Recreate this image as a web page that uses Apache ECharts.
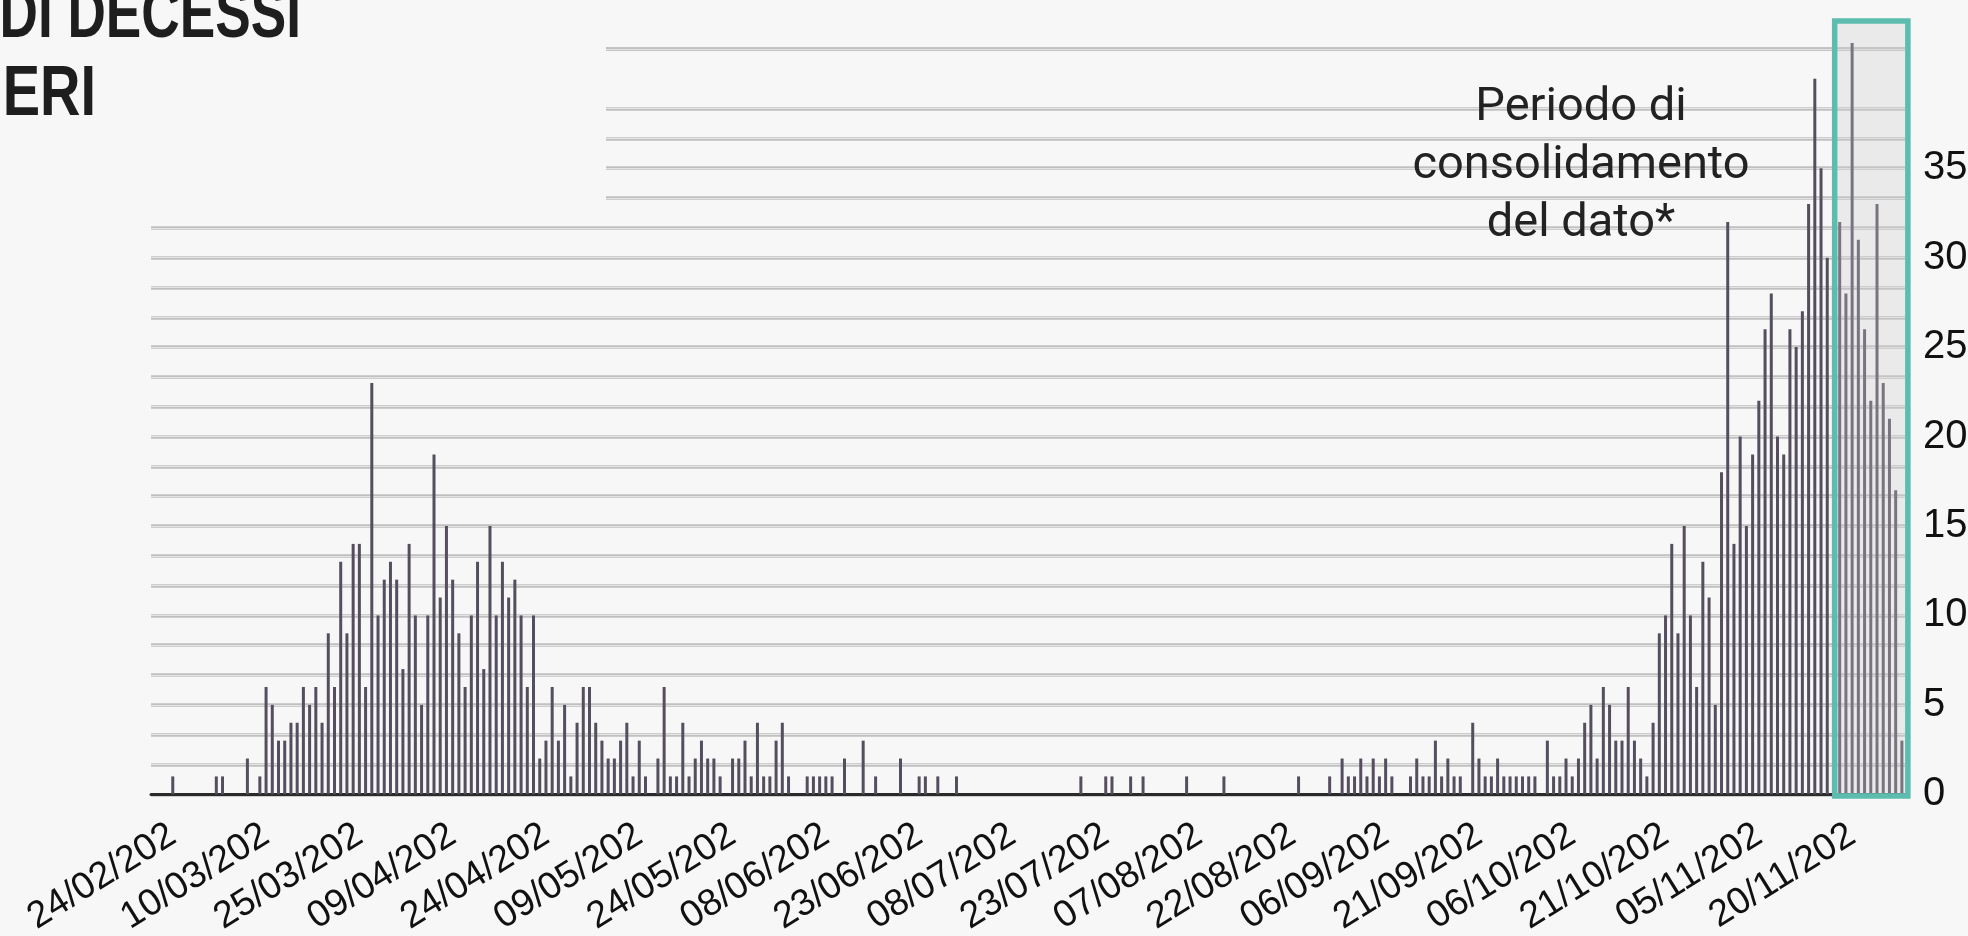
<!DOCTYPE html>
<html>
<head>
<meta charset="utf-8">
<script src="https://cdn.jsdelivr.net/npm/echarts@6/dist/echarts.min.js"></script>
<style>
html,body{margin:0;padding:0;background:#f7f7f7;}
#chart{width:1968px;height:936px;}
</style>
</head>
<body>
<div id="chart"></div>
<script>
// Daily deaths, 21/02/2020 .. 28/11/2020, one array per month
const febValues = [0,0,0,1,0,0,0,0,0];
const marValues = [0,1,1,0,0,0,2,0,1,6,5,3,3,4,4,6,5,6,4,9,6,13,9,14,14,6,23,10,12,13,12];
const aprValues = [7,14,10,5,10,19,11,15,12,9,6,10,13,7,15,10,13,11,12,10,6,10,2,3,6,3,5,1,4,6];
const mayValues = [6,4,3,2,2,3,4,1,3,1,0,2,6,1,1,4,1,2,3,2,2,1,0,2,2,3,1,4,1,1,3];
const junValues = [4,1,0,0,1,1,1,1,1,0,2,0,0,3,0,1,0,0,0,2,0,0,1,1,0,1,0,0,1,0];
const julValues = [0,0,0,0,0,0,0,0,0,0,0,0,0,0,0,0,0,0,1,0,0,0,1,1,0,0,1,0,1,0,0];
const augValues = [0,0,0,0,1,0,0,0,0,0,1,0,0,0,0,0,0,0,0,0,0,0,1,0,0,0,0,1,0,2,1];
const sepValues = [1,2,1,2,1,2,1,0,0,1,2,1,1,3,1,2,1,1,0,4,2,1,1,2,1,1,1,1,1,1];
const octValues = [0,3,1,1,2,1,2,4,5,2,6,5,3,3,6,3,2,1,4,9,10,14,9,15,10,6,13,11,5,18,32];
const novValues = [14,20,15,19,22,26,28,20,19,26,25,27,33,40,35,30,30,32,28,42,31,26,22,33,23,21,17,3];

const firstDate = [2020, 2, 21];          // year, month, day of the first category
const consolidationStart = '18/11/2020'; // start of "Periodo di consolidamento"
const yTickLabels = [0, 5, 10, 15, 20, 25, 30, 35];

const values = [].concat(febValues, marValues, aprValues, mayValues, junValues,
                         julValues, augValues, sepValues, octValues, novValues);
const categories = [];
(function () {
  const t0 = Date.UTC(firstDate[0], firstDate[1] - 1, firstDate[2]);
  for (let i = 0; i < values.length; i++) {
    const d = new Date(t0 + i * 86400000);
    const dd = String(d.getUTCDate()).padStart(2, '0');
    const mm = String(d.getUTCMonth() + 1).padStart(2, '0');
    categories.push(dd + '/' + mm + '/' + d.getUTCFullYear());
  }
})();
const firstLabelIndex = categories.indexOf('24/02/2020');

const yStep = 5 / 3;
const yMax = 25 * yStep;
const outerColors = [], innerColors = [];
for (let k = 0; k <= 25; k++) {
  const hidden = (k === 24);
  outerColors.push(hidden ? 'rgba(0,0,0,0)' : '#c0c0c0');
  innerColors.push(hidden ? 'rgba(0,0,0,0)' : '#e4e4e4');
}

const chart = echarts.init(document.getElementById('chart'), null, {renderer: 'canvas'});
const option = {
  backgroundColor: '#f7f7f7',
  animation: false,
  grid: {left: 151, right: 63, top: 49, bottom: 141.7, containLabel: false, outerBoundsMode: 'none'},
  xAxis: {
    type: 'category',
    data: categories,
    boundaryGap: true,
    axisTick: {show: false},
    axisLine: {show: true, lineStyle: {color: '#2a2a2a', width: 3}},
    axisLabel: {
      interval: function (idx) { return idx >= firstLabelIndex && (idx - firstLabelIndex) % 15 === 0; },
      rotate: 32,
      margin: 38,
      fontSize: 37.5,
      fontFamily: 'Liberation Sans, Arial, sans-serif',
      color: '#111',
      formatter: function (v) { return v.slice(0, 9); }
    },
    splitLine: {show: false}
  },
  yAxis: [{
    type: 'value',
    position: 'right',
    min: 0, max: yMax, interval: yStep,
    axisLine: {show: false}, axisTick: {show: false},
    axisLabel: {
      margin: 18, fontSize: 40, color: '#111',
      fontFamily: 'Liberation Sans, Arial, sans-serif',
      formatter: function (v) {
        const k = Math.round(v / yStep);
        const val = Math.round(v);
        return (k % 3 === 0 && yTickLabels.indexOf(val) >= 0) ? String(val) : '';
      }
    },
    splitLine: {show: true, lineStyle: {color: outerColors, width: 3.5}}
  }, {
    type: 'value',
    position: 'right',
    min: 0, max: yMax, interval: yStep,
    axisLine: {show: false}, axisTick: {show: false},
    axisLabel: {show: false},
    splitLine: {show: true, lineStyle: {color: innerColors, width: 1.2}}
  }],
  series: [{
    type: 'bar',
    data: values,
    yAxisIndex: 0,
    barWidth: 3,
    clip: false,
    itemStyle: {color: '#554e5e'},
    z: 3
  }]
};
chart.setOption(option);

// annotation box over the consolidation period
const i0 = categories.indexOf(consolidationStart);
const iLast = categories.length - 1;
const xL = chart.convertToPixel({xAxisIndex: 0}, categories[i0]) - 5;
const xR = chart.convertToPixel({xAxisIndex: 0}, categories[iLast]) + 6;
const titleFont = 'bold 70px "Liberation Sans", Arial, sans-serif';

chart.setOption({
  graphic: [
    {type: 'rect', z: 1, shape: {x: 140, y: 30, width: 466, height: 184}, style: {fill: '#f7f7f7'}},
    {type: 'rect', z: 60, shape: {x: xL, y: 21, width: xR - xL, height: 775},
     style: {fill: 'rgba(206,206,206,0.3)', stroke: '#5cbdae', lineWidth: 5.5}},
    {type: 'text', z: 50, x: 1581, y: 79,
     style: {text: 'Periodo di\nconsolidamento\ndel dato*', font: '400 47px Roboto', fill: '#222',
             align: 'center', verticalAlign: 'top', lineHeight: 58}},
    {type: 'text', z: 70, x: 301, y: 18, scaleX: 0.76,
     style: {text: 'NUMERO DI DECESSI', font: titleFont,
             fill: '#1e1e1e', align: 'right', verticalAlign: 'middle'}},
    {type: 'text', z: 70, x: 96, y: 96, scaleX: 0.8,
     style: {text: 'GIORNALIERI', font: titleFont,
             fill: '#1e1e1e', align: 'right', verticalAlign: 'middle'}}
  ]
});
</script>
</body>
</html>
